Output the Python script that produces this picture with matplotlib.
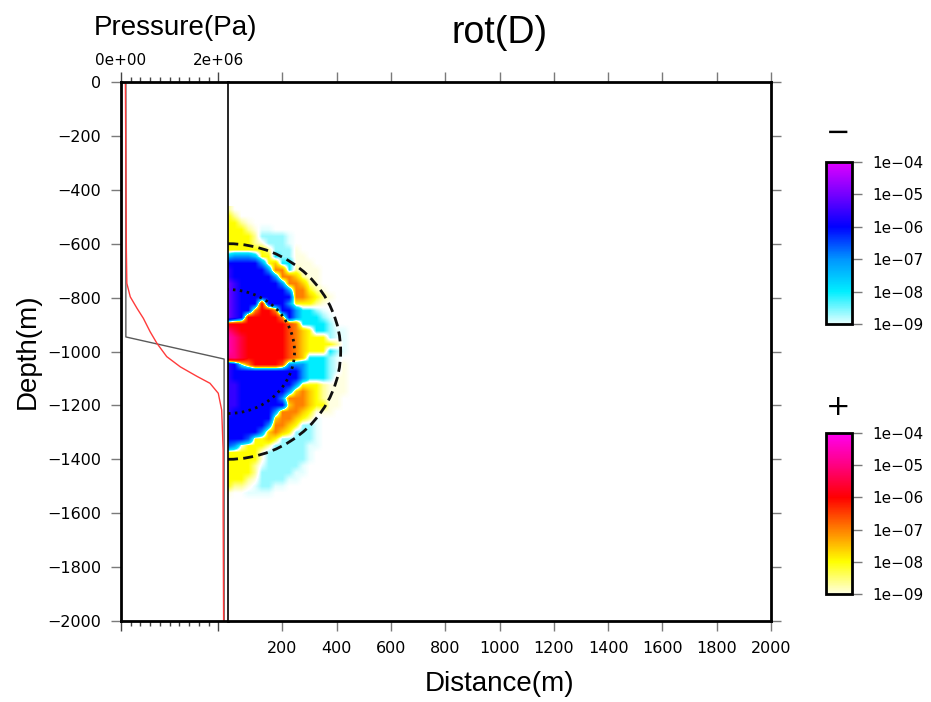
import numpy as np
import matplotlib
matplotlib.use("Agg")
import matplotlib.pyplot as plt
from matplotlib.colors import LinearSegmentedColormap, LogNorm
from matplotlib.cm import ScalarMappable
from matplotlib.patches import Ellipse

plt.rcParams['font.family'] = ['DejaVu Sans']
plt.rcParams['font.size'] = 11

# ---------------- data ----------------
title = "rot(D)"
depth_ticks = [0, -200, -400, -600, -800, -1000, -1200, -1400, -1600, -1800, -2000]
distance_ticks = [200, 400, 600, 800, 1000, 1200, 1400, 1600, 1800, 2000]
pressure_major = [0.0, 2.0e6]
pressure_major_labels = ["0e+00", "2e+06"]
pressure_minor = [0.2e6, 0.4e6, 0.6e6, 0.8e6, 1.0e6, 1.2e6, 1.4e6, 1.6e6, 1.8e6]

# smooth pressure profile (red)
profile_depth = [0, -300, -623, -747, -797, -840, -877, -927, -970, -1019,
                 -1057, -1092, -1118, -1155, -1217, -1366, -1600, -2000]
profile_pressure = [0.09e6, 0.10e6, 0.11e6, 0.12e6, 0.19e6, 0.33e6, 0.46e6, 0.60e6,
                    0.74e6, 0.94e6, 1.22e6, 1.56e6, 1.83e6, 2.00e6, 2.07e6, 2.10e6,
                    2.10e6, 2.11e6]
# step pressure profile (gray)
step_depth = [0, -946, -1028, -2000]
step_pressure = [0.10e6, 0.10e6, 2.12e6, 2.12e6]

# rot(D) field on a 25 m grid: columns x = 0..450 m, rows depth -475..-1550 m
field_x0, field_dx, field_ncol = 0.0, 25.0, 19
field_d0, field_dd = -475.0, -25.0
# codes: upper case = positive, lower case = negative; A/a = 1e-9 ... K/k = 1e-4 (half-decade steps)
field_rows = [
    "B..................",  # -475
    "CB.................",  # -500
    "CCBA...............",  # -525
    "CCCBAaa............",  # -550
    "CCCCBbbbba.........",  # -575
    "CCCCBAbbba.........",  # -600
    "CCCCCCBbbbA........",  # -625
    "deeedCCcbbAA.......",  # -650
    "gggggeCDccAAA......",  # -675
    "hgggggeEEcBAAA.....",  # -700
    "hggggggeEEDBAA.....",  # -725
    "ihggggggeEEDBA.....",  # -750
    "ihgggggggeEECBA....",  # -775
    "ihggggggggEEDCBA...",  # -800
    "ihgggGgggeCCCBA....",  # -825
    "ihggEGGEggeccba....",  # -850
    "ihgGGGGGEgecccba...",  # -875
    "GGGGGGGGGFEccccb...",  # -900
    "IHGGGGGGGFEDCccbaa.",  # -925
    "JIHGGGGGGFEDCCCbaa.",  # -950
    "JIHGGGGGGFEDCCCCBa.",  # -975
    "JIHGGGGGGFEDCCCcba.",  # -1000
    "IIHGGGGGGFEDcccba..",  # -1025
    "hgbEGGGGFeeecccbaA.",  # -1050
    "hggggggggggecccbaA.",  # -1075
    "hggggggggggecccbAA.",  # -1100
    "hhggggggggeCCCBAAA.",  # -1125
    "hhgggggggeDEDCBAAA.",  # -1150
    "hhggggggeEEEDCBAA..",  # -1175
    "hhgggggggDEEDCCAA..",  # -1200
    "hggggggeEEEDCAAA...",  # -1225
    "gggggggDEEDCBa.....",  # -1250
    "ggggggeEEDCbba.....",  # -1275
    "gggggeDEDCbbba.....",  # -1300
    "gggfCCDCbbbbba.....",  # -1325
    "feACCCBbbbbbaa.....",  # -1350
    "CCCCCAbbbbbba......",  # -1375
    "CCCCCAbbbbbba......",  # -1400
    "CCCCBabbbbba.......",  # -1425
    "CCCCBbbbbbaa.......",  # -1450
    "CCCBAbbbbaa........",  # -1475
    "CBBAabbaa..........",  # -1500
    "A..aaaa............",  # -1525
    "...................",  # -1550
]
code_letters = "ABCDEFGHIJK"
code_exponents = [-9.0, -8.5, -8.0, -7.5, -7.0, -6.5, -6.0, -5.5, -5.0, -4.5, -4.0]

# source region outlines: (center x, center depth, semi-axis x, semi-axis depth)
outer_region = (0.0, -1000.0, 415.0, 400.0)
inner_region = (0.0, -1000.0, 245.0, 230.0)

# colour scales (1e-9 .. 1e-4)
neg_colors = ['#e4ffff', '#00eeff', '#0095ff', '#0000ff', '#7400ff', '#e000ff']
pos_colors = ['#ffffe0', '#ffff00', '#ff8000', '#ff0000', '#ff0080', '#ff00f0']
cbar_ticks = [1e-9, 1e-8, 1e-7, 1e-6, 1e-5, 1e-4]
cbar_labels = ["1e\u221209", "1e\u221208", "1e\u221207", "1e\u221206", "1e\u221205", "1e\u221204"]

# ---------------- build field ----------------
# signed display level: sign * (decades above 1e-10)^3  (power -> crisper sign changes)
POW = 3
nrow = len(field_rows)
level = np.zeros((nrow, field_ncol))
for i, row in enumerate(field_rows):
    row = row.ljust(field_ncol, '.')[:field_ncol]
    for j, ch in enumerate(row):
        if ch == '.':
            continue
        e = code_exponents[code_letters.index(ch.upper())]
        value = (1.0 if ch.isupper() else -1.0) * 10.0 ** e
        level[i, j] = np.sign(value) * (np.log10(abs(value)) + 10.0) ** POW

smax = 6.0 ** POW
node_pos = [-(k ** POW) for k in range(6, 0, -1)] + [0] + [k ** POW for k in range(1, 7)]
node_col = neg_colors[::-1] + ['#ffffff'] + pos_colors
field_cmap = LinearSegmentedColormap.from_list(
    'rotD', [((p + smax) / (2 * smax), c) for p, c in zip(node_pos, node_col)], N=4097)
pos_cmap = LinearSegmentedColormap.from_list('pos', pos_colors)
neg_cmap = LinearSegmentedColormap.from_list('neg', neg_colors)

# ---------------- figure ----------------
W, H = 931, 702
fig = plt.figure(figsize=(W / 100, H / 100), dpi=100)

def fx(px):
    return px / W

def fy(py):
    return 1 - py / H

ax_p = fig.add_axes([fx(121), fy(621), fx(228) - fx(121), fy(82) - fy(621)])
ax_d = fig.add_axes([fx(228), fy(621), fx(771) - fx(228), fy(82) - fy(621)])

tick_col = '#7a7a7a'
spine_lw = 2.0

# pressure panel
ax_p.plot(step_pressure, step_depth, color='#5a5a5a', lw=1.0)
ax_p.plot(profile_pressure, profile_depth, color='#ff3b3b', lw=1.0)
ax_p.set_xlim(0, 2.2e6)
ax_p.set_ylim(-2000, 0)
ax_p.set_xticks(pressure_major)
ax_p.set_xticklabels(pressure_major_labels)
ax_p.set_xticks(pressure_minor, minor=True)
ax_p.tick_params(axis='x', which='both', top=True, bottom=True, labeltop=True,
                 labelbottom=False, direction='out', color='#444444', width=1)
ax_p.tick_params(axis='x', which='major', length=7.2, pad=3)
ax_p.tick_params(axis='x', which='minor', length=3.6)
ax_p.set_yticks(depth_ticks)
ax_p.tick_params(axis='y', left=True, right=False, direction='out', length=7.2,
                 width=1, color=tick_col, pad=7.2, labelsize=11.5)
for s in ['left', 'top', 'bottom']:
    ax_p.spines[s].set_linewidth(spine_lw)
ax_p.spines['right'].set_visible(False)

# distance panel
ax_d.imshow(level, cmap=field_cmap, vmin=-smax, vmax=smax, aspect='auto',
            interpolation='bilinear', interpolation_stage='data', origin='upper',
            extent=[field_x0 - field_dx / 2, field_x0 + field_dx * (field_ncol - 0.5),
                    field_d0 + field_dd * (nrow - 0.5), field_d0 - field_dd / 2])
cx, cy, a, b = outer_region
ax_d.add_patch(Ellipse((cx, cy), 2 * a, 2 * b, fill=False, ec='#111111', lw=2.0,
                       linestyle=(0, (3.6, 1.9))))
cx, cy, a, b = inner_region
ax_d.add_patch(Ellipse((cx, cy), 2 * a, 2 * b, fill=False, ec='#111111', lw=2.0,
                       linestyle=(0, (0.9, 1.6))))
ax_d.set_xlim(0, 2000)
ax_d.set_ylim(-2000, 0)
ax_d.set_xticks(distance_ticks)
ax_d.tick_params(axis='x', top=True, bottom=True, labeltop=False, labelbottom=True,
                 direction='out', length=7.2, width=1, color=tick_col, pad=7,
                 labelsize=11.5)
ax_d.set_yticks(depth_ticks)
ax_d.tick_params(axis='y', left=False, right=True, labelleft=False, labelright=False,
                 direction='out', length=7.2, width=1, color=tick_col)
for s in ['right', 'top', 'bottom']:
    ax_d.spines[s].set_linewidth(spine_lw)
ax_d.spines['left'].set_linewidth(1.2)

# texts
fig.text(fx(499.5), fy(33), title, ha='center', va='center', fontsize=27,
         family='Liberation Sans')
fig.text(fx(175), fy(35), "Pressure(Pa)", ha='center', va='baseline', fontsize=20,
         family='Liberation Sans')
fig.text(fx(499.5), fy(691), "Distance(m)", ha='center', va='baseline', fontsize=20,
         family='Liberation Sans')
fig.text(fx(28), fy(351.5), "Depth(m)", ha='center', va='center', rotation=90,
         fontsize=20, family='Liberation Sans')

# colour bars
def add_cbar(top, bottom, cmap, sign, sign_y):
    cax = fig.add_axes([fx(826), fy(bottom), fx(852) - fx(826), fy(top) - fy(bottom)])
    sm = ScalarMappable(norm=LogNorm(1e-9, 1e-4), cmap=cmap)
    cb = fig.colorbar(sm, cax=cax, ticks=cbar_ticks)
    cb.ax.minorticks_off()
    cb.ax.set_yticklabels(cbar_labels)
    cb.outline.set_linewidth(2.0)
    cax.tick_params(length=7.2, width=1, color=tick_col, pad=7.2, labelsize=11)
    fig.text(fx(838), fy(sign_y), sign, ha='center', va='center', fontsize=21)

add_cbar(162, 324, neg_cmap, "\u2212", 133)
add_cbar(433, 594, pos_cmap, "+", 407)

fig.savefig("out.png", dpi=100)
